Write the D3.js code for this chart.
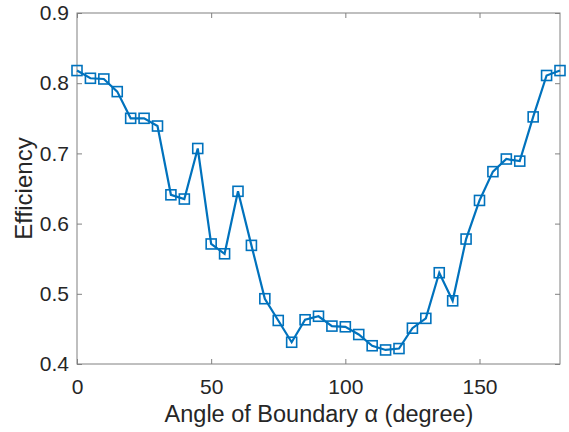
<!DOCTYPE html>
<html>
<head>
<meta charset="utf-8">
<script src="https://cdn.jsdelivr.net/npm/d3@7"></script>
<style>
  body { margin: 0; background: #fff; }
  text { font-family: "Liberation Sans", Arial, sans-serif; fill: #262626; }
</style>
</head>
<body>
<div id="chart"></div>
<script>
const angles = [0, 5, 10, 15, 20, 25, 30, 35, 40, 45, 50, 55, 60, 65, 70, 75, 80, 85, 90,
                95, 100, 105, 110, 115, 120, 125, 130, 135, 140, 145, 150, 155, 160, 165, 170, 175, 180];
const efficiency = [0.818, 0.807, 0.806, 0.788, 0.750, 0.750, 0.739, 0.641, 0.635, 0.707,
                    0.571, 0.557, 0.646, 0.569, 0.493, 0.462, 0.431, 0.463, 0.468, 0.454,
                    0.453, 0.442, 0.426, 0.420, 0.422, 0.451, 0.465, 0.530, 0.490, 0.578,
                    0.633, 0.674, 0.692, 0.689, 0.752, 0.811, 0.818];
const xTicks = [0, 50, 100, 150];
const yTicks = [0.4, 0.5, 0.6, 0.7, 0.8, 0.9];

const W = 569, H = 432;
const margin = { top: 13, right: 9, bottom: 68, left: 77 };
const width = W - margin.left - margin.right,
      height = H - margin.top - margin.bottom;

const svg = d3.select("#chart").append("svg")
    .attr("width", W).attr("height", H);
const g = svg.append("g").attr("transform", `translate(${margin.left},${margin.top})`);

const x = d3.scaleLinear().domain([0, 180]).range([0, width]);
const y = d3.scaleLinear().domain([0.4, 0.9]).range([height, 0]);

const axisColor = "#808080";

// box
g.append("rect").attr("width", width).attr("height", height)
  .attr("fill", "none").attr("stroke", axisColor).attr("stroke-width", 1);

// axes with inward ticks
const styleAxis = sel => {
  sel.select(".domain").remove();
  sel.selectAll(".tick line").attr("stroke", axisColor);
  sel.selectAll(".tick text").style("font-size", "21px").attr("fill", "#262626");
};

g.append("g").attr("transform", `translate(0,${height})`)
  .call(d3.axisBottom(x).tickValues(xTicks).tickSizeInner(-5).tickSizeOuter(0).tickPadding(15))
  .call(styleAxis);
g.append("g")
  .call(d3.axisLeft(y).tickValues(yTicks).tickFormat(d3.format(".1f")).tickSizeInner(-5).tickSizeOuter(0).tickPadding(8))
  .call(styleAxis);
g.append("g")
  .call(d3.axisTop(x).tickValues(xTicks).tickSizeInner(-5).tickSizeOuter(0).tickFormat(""))
  .call(styleAxis);
g.append("g").attr("transform", `translate(${width},0)`)
  .call(d3.axisRight(y).tickValues(yTicks).tickSizeInner(-5).tickSizeOuter(0).tickFormat(""))
  .call(styleAxis);

// line
const data = angles.map((a, i) => ({ a, e: efficiency[i] }));
g.append("path").datum(data)
  .attr("fill", "none").attr("stroke", "#0072BD").attr("stroke-width", 2.2)
  .attr("d", d3.line().x(d => x(d.a)).y(d => y(d.e)));

// markers
const s = 10;
g.selectAll(".mk").data(data).enter().append("rect")
  .attr("class", "mk")
  .attr("x", d => x(d.a) - s / 2).attr("y", d => y(d.e) - s / 2)
  .attr("width", s).attr("height", s)
  .attr("fill", "none").attr("stroke", "#0072BD").attr("stroke-width", 1.6);

// labels
svg.append("text")
  .attr("x", 319).attr("y", 422)
  .attr("text-anchor", "middle").style("font-size", "23.5px")
  .text("Angle of Boundary α (degree)");
svg.append("text")
  .attr("transform", `translate(32,${margin.top + height / 2}) rotate(-90)`)
  .attr("text-anchor", "middle").style("font-size", "24px")
  .text("Efficiency");
</script>
</body>
</html>
